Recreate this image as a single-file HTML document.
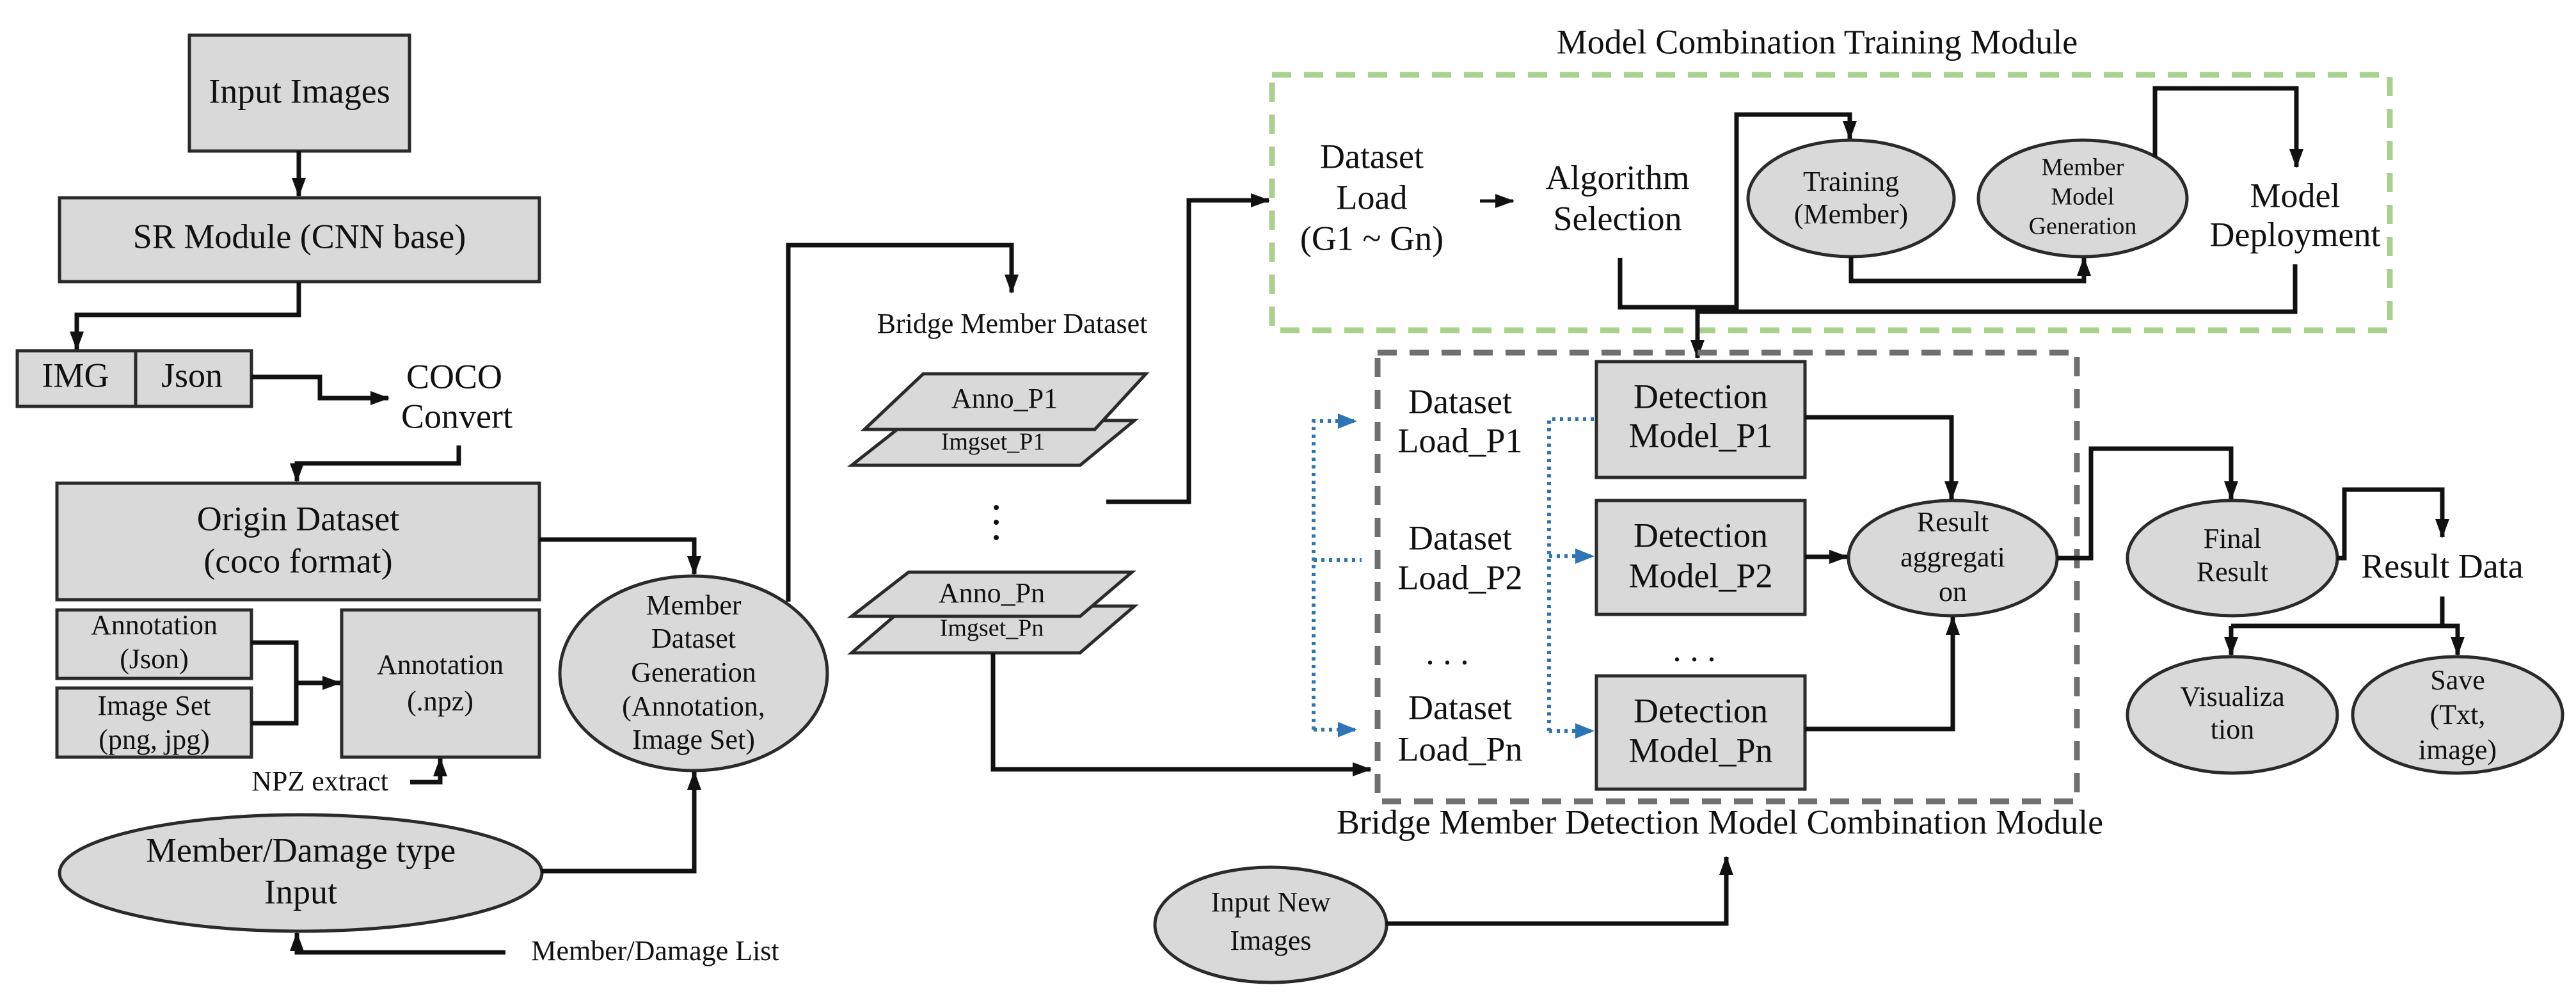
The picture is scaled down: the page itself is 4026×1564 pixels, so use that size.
<!DOCTYPE html>
<html><head><meta charset="utf-8"><style>
html,body{margin:0;padding:0;background:#fff;}
svg{display:block;}
svg text{font-family:"Liberation Serif","Times New Roman","DejaVu Serif",serif;fill:#111;text-anchor:middle;dominant-baseline:middle;}
.b{fill:#d9d9d9;stroke:#2a2a2a;stroke-width:5;}
.l{fill:none;stroke:#111;stroke-width:7;}
.t{font-size:54px;}
.s{font-size:44px;}
.xs{font-size:38px;}
.bl{fill:none;stroke:#2e75b6;stroke-width:6;stroke-dasharray:5 7;}
</style></head><body>
<svg width="4026" height="1564" viewBox="0 0 4026 1564" xmlns="http://www.w3.org/2000/svg" font-family="Liberation Serif, Times New Roman, DejaVu Serif, serif">
<defs>
<marker id="a" markerUnits="userSpaceOnUse" markerWidth="30" markerHeight="30" viewBox="0 0 30 30" refX="28" refY="15" orient="auto"><path d="M0,4 L30,15 L0,26 z" fill="#111"/></marker>
<marker id="ab" markerUnits="userSpaceOnUse" markerWidth="30" markerHeight="30" viewBox="0 0 30 30" refX="28" refY="15" orient="auto"><path d="M0,3 L30,15 L0,27 z" fill="#2e75b6"/></marker>
</defs>

<rect class="b" x="296" y="55" width="344" height="181"/>
<text class="t" x="468" y="148">Input  Images</text>
<path class="l" d="M467,236 V306" marker-end="url(#a)"/>
<rect class="b" x="93" y="309" width="750" height="131"/>
<text class="t" x="468" y="375">SR Module  (CNN base)</text>
<path class="l" d="M467,440 V492 H120 V546" marker-end="url(#a)"/>
<rect class="b" x="27" y="548" width="366" height="87"/>
<line x1="212" y1="548" x2="212" y2="635" stroke="#2a2a2a" stroke-width="5"/>
<text class="t" x="118" y="592">IMG</text>
<text class="t" x="300" y="592">Json</text>
<path class="l" d="M393,589 H500 V622 H607" marker-end="url(#a)"/>
<text class="t" x="710" y="594">COCO</text>
<text class="t" x="714" y="656">Convert</text>
<path class="l" d="M717,696 V724 H464 V752" marker-end="url(#a)"/>
<rect class="b" x="89" y="755" width="754" height="182"/>
<text class="t" x="466" y="816">Origin  Dataset</text>
<text class="t" x="466" y="882">(coco format)</text>
<path class="l" d="M843,843 H1085 V897" marker-end="url(#a)"/>
<rect class="b" x="89" y="953" width="304" height="107"/>
<text class="s" x="241" y="981">Annotation</text>
<text class="s" x="241" y="1034">(Json)</text>
<rect class="b" x="89" y="1075" width="304" height="108"/>
<text class="s" x="241" y="1107">Image Set</text>
<text class="s" x="241" y="1160">(png, jpg)</text>
<path class="l" d="M393,1004 H463 V1130 H393"/>
<path class="l" d="M463,1067 H532" marker-end="url(#a)"/>
<rect class="b" x="534" y="953" width="309" height="230"/>
<text class="s" x="688" y="1043">Annotation</text>
<text class="s" x="688" y="1100">(.npz)</text>
<text class="s" x="500" y="1225">NPZ extract</text>
<path class="l" d="M641,1222 H688 V1185" marker-end="url(#a)"/>
<ellipse class="b" cx="1084" cy="1052" rx="209" ry="152"/>
<text class="s" x="1084" y="950">Member</text>
<text class="s" x="1084" y="1002">Dataset</text>
<text class="s" x="1084" y="1055">Generation</text>
<text class="s" x="1084" y="1108">(Annotation,</text>
<text class="s" x="1084" y="1160">Image  Set)</text>
<ellipse class="b" cx="470" cy="1364" rx="377" ry="91"/>
<text class="t" x="470" y="1334">Member/Damage  type</text>
<text class="t" x="470" y="1399">Input</text>
<path class="l" d="M846,1361 H1085 V1206" marker-end="url(#a)"/>
<text class="s" x="1024" y="1490">Member/Damage List</text>
<path class="l" d="M790,1488 H464 V1458" marker-end="url(#a)"/>
<path class="l" d="M1232,940 V383 H1581 V457" marker-end="url(#a)"/>

<text class="s" x="1582" y="510">Bridge Member Dataset</text>
<polygon class="b" points="1420,657 1773,657 1688,727 1331,727"/>
<text class="xs" x="1552" y="694">Imgset_P1</text>
<polygon class="b" points="1443,584 1791,584 1711,671 1351,671"/>
<text class="s" x="1570" y="627">Anno_P1</text>
<circle cx="1557" cy="793" r="4" fill="#111"/><circle cx="1557" cy="816" r="4" fill="#111"/><circle cx="1557" cy="840" r="4" fill="#111"/>
<polygon class="b" points="1416,947 1773,947 1688,1020 1331,1020"/>
<text class="xs" x="1550" y="985">Imgset_Pn</text>
<polygon class="b" points="1420,894 1769,894 1688,963 1331,963"/>
<text class="s" x="1550" y="931">Anno_Pn</text>
<path class="l" d="M1729,784 H1858 V313 H1983" marker-end="url(#a)"/>
<path class="l" d="M1552,1020 V1202 H2142" marker-end="url(#a)"/>

<text class="t" x="2840" y="71">Model Combination  Training Module</text>
<rect x="1988" y="117" width="1747" height="399" fill="none" stroke="#a9d18e" stroke-width="9" stroke-dasharray="30 20"/>
<text class="t" x="2144" y="250">Dataset</text>
<text class="t" x="2144" y="314">Load</text>
<text class="t" x="2144" y="378">(G1 ~ Gn)</text>
<path d="M2313,314 H2365" stroke="#111" stroke-width="5" fill="none" marker-end="url(#a)"/>
<text class="t" x="2528" y="283">Algorithm</text>
<text class="t" x="2528" y="347">Selection</text>
<path class="l" d="M2532,403 V480 H2714 V179 H2891 V217" marker-end="url(#a)"/>
<path class="l" d="M2653,480 V559" marker-end="url(#a)"/>
<path class="l" d="M3587,413 V487 H2653"/>
<ellipse class="b" cx="2893" cy="310" rx="161" ry="91"/>
<text class="s" x="2893" y="288">Training</text>
<text class="s" x="2893" y="339">(Member)</text>
<ellipse class="b" cx="3255" cy="310" rx="163" ry="91"/>
<text class="xs" x="3255" y="265">Member</text>
<text class="xs" x="3255" y="311">Model</text>
<text class="xs" x="3255" y="357">Generation</text>
<path class="l" d="M2893,401 V439 H3257 V403" marker-end="url(#a)"/>
<path class="l" d="M3368,245 V138 H3589 V261" marker-end="url(#a)"/>
<text class="t" x="3587" y="311">Model</text>
<text class="t" x="3587" y="372">Deployment</text>

<rect x="2153" y="551" width="1093" height="701" fill="none" stroke="#6f6f6f" stroke-width="9" stroke-dasharray="30 20"/>
<text class="t" x="2688" y="1290">Bridge Member Detection Model Combination  Module</text>
<text class="t" x="2282" y="633">Dataset</text>
<text class="t" x="2282" y="694">Load_P1</text>
<text class="t" x="2282" y="846">Dataset</text>
<text class="t" x="2282" y="908">Load_P2</text>
<text class="t" x="2262" y="1025">. . .</text>
<text class="t" x="2282" y="1111">Dataset</text>
<text class="t" x="2282" y="1176">Load_Pn</text>
<path class="bl" d="M2053,1140 V658 H2119" marker-end="url(#ab)"/>
<path class="bl" d="M2053,875 H2128"/>
<path class="bl" d="M2053,1140 H2119" marker-end="url(#ab)"/>
<path class="bl" d="M2421,1142 V655 H2495"/>
<path class="bl" d="M2421,869 H2490" marker-end="url(#ab)"/>
<path class="bl" d="M2421,1142 H2490" marker-end="url(#ab)"/>
<rect class="b" x="2495" y="565" width="326" height="181"/>
<text class="t" x="2658" y="625">Detection</text>
<text class="t" x="2658" y="686">Model_P1</text>
<rect class="b" x="2495" y="782" width="326" height="178"/>
<text class="t" x="2658" y="842">Detection</text>
<text class="t" x="2658" y="905">Model_P2</text>
<text class="t" x="2648" y="1020">. . .</text>
<rect class="b" x="2495" y="1056" width="326" height="177"/>
<text class="t" x="2658" y="1116">Detection</text>
<text class="t" x="2658" y="1178">Model_Pn</text>
<ellipse class="b" cx="3052" cy="872" rx="163" ry="90"/>
<text class="s" x="3052" y="820">Result</text>
<text class="s" x="3052" y="875">aggregati</text>
<text class="s" x="3052" y="929">on</text>
<path class="l" d="M2821,652 H3050 V780" marker-end="url(#a)"/>
<path class="l" d="M2821,870 H2887" marker-end="url(#a)"/>
<path class="l" d="M2821,1139 H3052 V964" marker-end="url(#a)"/>
<ellipse class="b" cx="1986" cy="1445" rx="181" ry="90"/>
<text class="s" x="1986" y="1414">Input New</text>
<text class="s" x="1986" y="1474">Images</text>
<path class="l" d="M2166,1443 H2698 V1339" marker-end="url(#a)"/>

<path class="l" d="M3215,872 H3268 V701 H3487 V780" marker-end="url(#a)"/>
<ellipse class="b" cx="3489" cy="872" rx="164" ry="90"/>
<text class="s" x="3489" y="846">Final</text>
<text class="s" x="3489" y="898">Result</text>
<path class="l" d="M3653,872 H3664 V765 H3817 V839" marker-end="url(#a)"/>
<text class="t" x="3817" y="890">Result Data</text>
<path class="l" d="M3817,932 V978"/>
<path class="l" d="M3487,978 H3841 V1023" marker-end="url(#a)"/>
<path class="l" d="M3487,978 V1023" marker-end="url(#a)"/>
<ellipse class="b" cx="3489" cy="1117" rx="164" ry="91"/>
<text class="s" x="3489" y="1093">Visualiza</text>
<text class="s" x="3489" y="1144">tion</text>
<ellipse class="b" cx="3841" cy="1117" rx="164" ry="91"/>
<text class="s" x="3841" y="1067">Save</text>
<text class="s" x="3841" y="1121">(Txt,</text>
<text class="s" x="3841" y="1176">image)</text>
</svg>
</body></html>
